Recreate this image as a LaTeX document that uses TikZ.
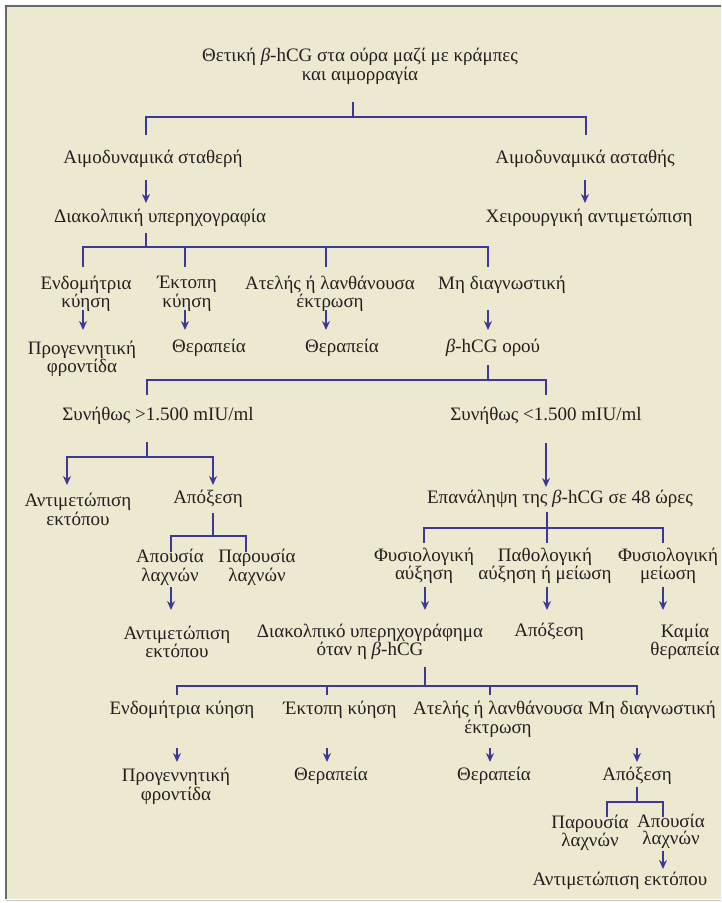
\documentclass[tikz,border=0pt]{standalone}
\usepackage{fontspec}
\setmainfont{Liberation Serif}
\usetikzlibrary{arrows.meta}
\definecolor{bg}{RGB}{237,232,208}
\definecolor{lc}{RGB}{58,58,150}
\definecolor{tc}{RGB}{35,31,32}
\definecolor{fr}{RGB}{105,105,105}
\newcommand\bt{\textit{β}}
\begin{document}
\begin{tikzpicture}[x=1pt,y=-1pt,
  lbl/.style={text=tc, font=\fontsize{19}{18.5}\selectfont, align=center, inner sep=0pt},
  tight/.style={lbl, font=\fontsize{19}{17.5}\selectfont},
  ln/.style={draw=lc, line width=2.2pt},
  arr/.style={ln, -{Stealth[length=9pt,width=8pt]}},
  arrs/.style={ln, {Stealth[length=9pt,width=8pt]}-{Stealth[length=9pt,width=8pt]}}]
\useasboundingbox (0,0) rectangle (721,903);
\fill[white] (0,0) rectangle (721,903);
\fill[bg] (6,6) rectangle (721,899);
\draw[fr, line width=2pt] (5.5,899) -- (5.5,5.5) -- (721,5.5);
\draw[gray!45, line width=1pt] (6,900) -- (721,900);

% nodes
\node[lbl] (title) at (360,66.5) {Θετική \bt-hCG στα ούρα μαζί με κράμπες\\και αιμορραγία};
\node[lbl] (hs) at (153,159) {Αιμοδυναμικά σταθερή};
\node[lbl] (hu) at (585,159) {Αιμοδυναμικά ασταθής};
\node[lbl] (tvs) at (160,218) {Διακολπική υπερηχογραφία};
\node[lbl] (surg) at (589,218) {Χειρουργική αντιμετώπιση};
\node[lbl] (endoA) at (86,294) {Ενδομήτρια\\κύηση};
\node[lbl] (ectA) at (187,294) {Έκτοπη\\κύηση};
\node[lbl] (incA) at (330,294) {Ατελής ή λανθάνουσα\\έκτρωση};
\node[lbl] (ndA) at (502,285) {Μη διαγνωστική};
\node[lbl] (preA) at (82,359) {Προγεννητική\\φροντίδα};
\node[lbl] (therA) at (209,348) {Θεραπεία};
\node[lbl] (therB) at (342,348) {Θεραπεία};
\node[lbl] (serum) at (493,348) {\bt-hCG ορού};
\node[lbl] (hi) at (158,416) {Συνήθως >1.500 mIU/ml};
\node[lbl] (lo) at (546,416) {Συνήθως <1.500 mIU/ml};
\node[lbl] (mgA) at (78,509.5) {Αντιμετώπιση\\εκτόπου};
\node[lbl] (curA) at (208,499) {Απόξεση};
\node[lbl] (rep) at (560,499) {Επανάληψη της \bt-hCG σε 48 ώρες};
\node[lbl] (absA) at (170,567.5) {Απουσία\\λαχνών};
\node[lbl] (presA) at (257,567.5) {Παρουσία\\λαχνών};
\node[lbl] (nrise) at (424,566) {Φυσιολογική\\αύξηση};
\node[lbl] (abn) at (545,566) {Παθολογική\\αύξηση ή μείωση};
\node[lbl] (nfall) at (668,566) {Φυσιολογική\\μείωση};
\node[lbl] (mgB) at (177,642) {Αντιμετώπιση\\εκτόπου};
\node[lbl] (tvsB) at (370,642) {Διακολπικό υπερηχογράφημα\\όταν η \bt-hCG};
\node[lbl] (curB) at (549,632) {Απόξεση};
\node[lbl] (none) at (685,642) {Καμία\\θεραπεία};
\node[lbl] (endoB) at (182,710) {Ενδομήτρια κύηση};
\node[lbl] (ectB) at (340,710) {Έκτοπη κύηση};
\node[lbl] (incB) at (498,719.5) {Ατελής ή λανθάνουσα\\έκτρωση};
\node[lbl] (ndB) at (652,710) {Μη διαγνωστική};
\node[lbl] (preB) at (176,786.5) {Προγεννητική\\φροντίδα};
\node[lbl] (therC) at (331,776) {Θεραπεία};
\node[lbl] (therD) at (494,776) {Θεραπεία};
\node[lbl] (curC) at (637,776) {Απόξεση};
\node[tight] (presB) at (590,833) {Παρουσία\\λαχνών};
\node[tight] (absB) at (671,831.5) {Απουσία\\λαχνών};
\node[lbl] (mgC) at (620,881) {Αντιμετώπιση εκτόπου};

% connectors
\draw[ln] ([xshift=-7pt,yshift=-35.5pt]title.center) -- ++(0,15);
\draw[ln] ([xshift=-7pt,yshift=24pt]hs.center) -- ++(0,-18) -| ([xshift=1pt,yshift=24pt]hu.center);
\draw[arr] ([xshift=-7pt,yshift=-21pt]hs.center) -- ([xshift=-14pt,yshift=15pt]tvs.center);
\draw[arr] ([yshift=-21pt]hu.center) -- ([xshift=-4pt,yshift=15pt]surg.center);

\draw[ln] ([xshift=-14pt,yshift=-15pt]tvs.center) -- ++(0,14);
\draw[ln] ([xshift=-3pt,yshift=27pt]endoA.center) -- ++(0,-20) -| ([xshift=-14pt,yshift=18pt]ndA.center);
\draw[ln] ([xshift=-2pt,yshift=27pt]ectA.center) -- ++(0,-20);
\draw[ln] ([xshift=-4pt,yshift=27pt]incA.center) -- ++(0,-20);
\draw[arr] ([xshift=-3pt,yshift=-16pt]endoA.center) -- ([xshift=1pt,yshift=29pt]preA.center);
\draw[arr] ([xshift=-2pt,yshift=-16pt]ectA.center) -- ([xshift=-24pt,yshift=18pt]therA.center);
\draw[arr] ([xshift=-4pt,yshift=-16pt]incA.center) -- ([xshift=-16pt,yshift=18pt]therB.center);
\draw[arr] ([xshift=-14pt,yshift=-25pt]ndA.center) -- ([xshift=-5pt,yshift=18pt]serum.center);

\draw[ln] ([xshift=-5pt,yshift=-17pt]serum.center) -- ++(0,15);
\draw[ln] ([xshift=-11pt,yshift=21pt]hi.center) -- ++(0,-15) -| ([yshift=21pt]lo.center);

\draw[ln] ([xshift=-11pt,yshift=-26pt]hi.center) -- ++(0,15);
\draw[arrs] ([xshift=-11pt,yshift=24.5pt]mgA.center) -- ++(0,-28) -| ([xshift=5pt,yshift=14pt]curA.center);
\draw[arr] ([yshift=-27pt]lo.center) -- ([xshift=-14pt,yshift=12pt]rep.center);

\draw[ln] ([xshift=5pt,yshift=-14pt]curA.center) -- ++(0,23);
\draw[ln] ([xshift=1pt,yshift=15.5pt]absA.center) -- ++(0,-16) -| ([xshift=-11pt,yshift=15.5pt]presA.center);
\draw[arr] ([xshift=1pt,yshift=-19.5pt]absA.center) -- ([xshift=-6pt,yshift=32pt]mgB.center);

\draw[ln] ([xshift=-13pt,yshift=-13pt]rep.center) -- ([xshift=2pt,yshift=23pt]abn.center);
\draw[ln] ([yshift=23pt]nrise.center) -- ++(0,-15) -| ([xshift=-5pt,yshift=23pt]nfall.center);
\draw[arr] ([xshift=1pt,yshift=-21pt]nrise.center) -- ([xshift=55pt,yshift=32pt]tvsB.center);
\draw[arr] ([xshift=2pt,yshift=-21pt]abn.center) -- ([xshift=-2pt,yshift=22pt]curB.center);
\draw[arr] ([xshift=-5pt,yshift=-21pt]nfall.center) -- ([xshift=-22pt,yshift=32pt]none.center);

\draw[ln] ([xshift=55pt,yshift=-25pt]tvsB.center) -- ++(0,19);
\draw[ln] ([xshift=-5pt,yshift=15pt]endoB.center) -- ++(0,-9) -| ([xshift=-15pt,yshift=15pt]ndB.center);
\draw[ln] ([xshift=-13pt,yshift=15pt]ectB.center) -- ++(0,-9);
\draw[ln] ([xshift=-8pt,yshift=24.5pt]incB.center) -- ++(0,-9);
\draw[arr] ([xshift=-5pt,yshift=-38pt]endoB.center) -- ([xshift=1pt,yshift=24.5pt]preB.center);
\draw[arr] ([xshift=-13pt,yshift=-38pt]ectB.center) -- ([xshift=-4pt,yshift=14pt]therC.center);
\draw[arr] ([xshift=-8pt,yshift=-28.5pt]incB.center) -- ([xshift=-4pt,yshift=14pt]therD.center);
\draw[arr] ([xshift=-15pt,yshift=-38pt]ndB.center) -- ([yshift=14pt]curC.center);

\draw[ln] ([yshift=-11pt]curC.center) -- ++(0,15);
\draw[ln] ([xshift=17pt,yshift=16pt]presB.center) -- ++(0,-15) -| ([xshift=-8pt,yshift=14.5pt]absB.center);
\draw[arr] ([xshift=-8pt,yshift=-19pt]absB.center) -- ([xshift=43pt,yshift=12pt]mgC.center);
\end{tikzpicture}
\end{document}
